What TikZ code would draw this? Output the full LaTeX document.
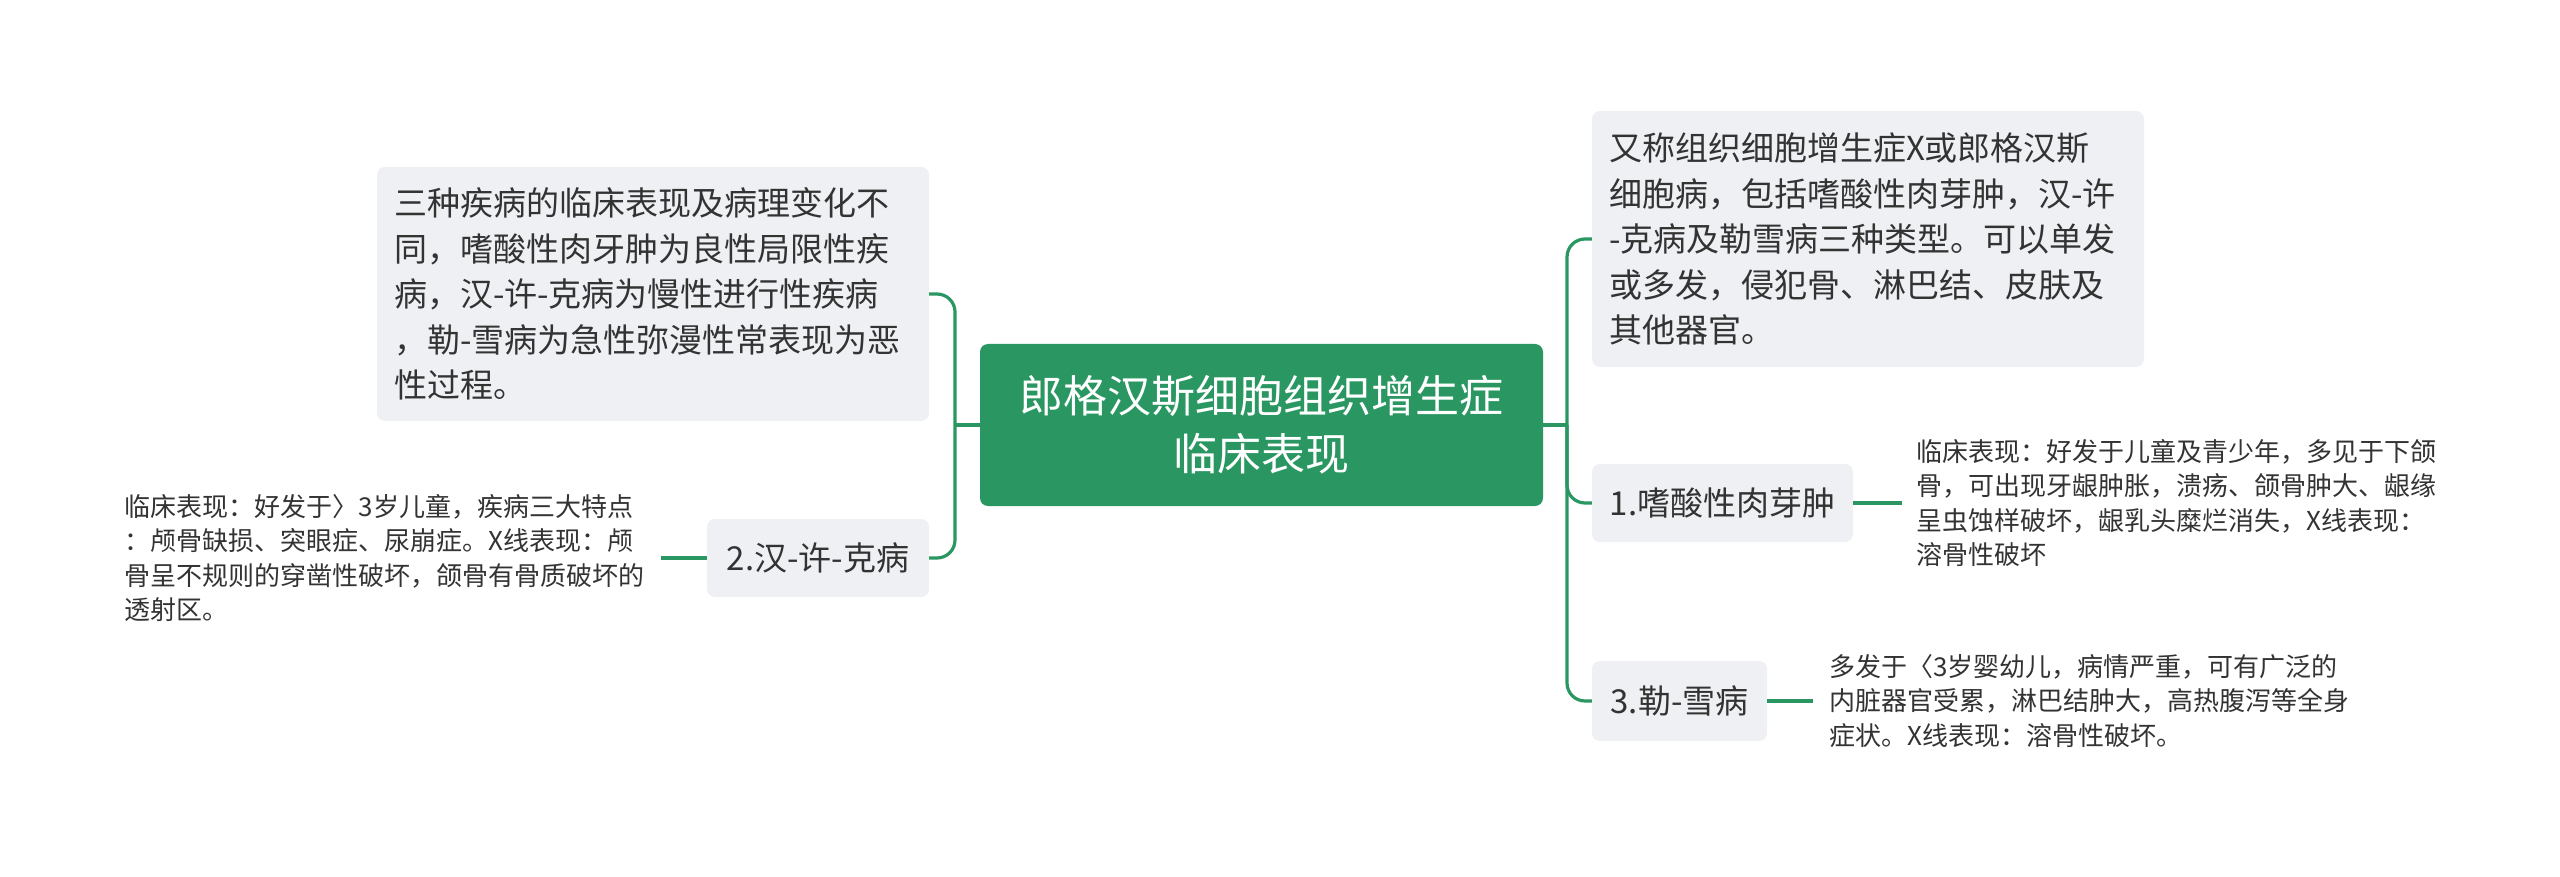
\documentclass[tikz,border=0pt]{standalone}
\usepackage{fontspec}
\setmainfont{Noto Sans CJK SC}
\definecolor{mgreen}{HTML}{2A9762}
\definecolor{lgreen}{HTML}{2A9762}
\definecolor{boxgray}{HTML}{EEF0F3}
\definecolor{txt}{HTML}{333333}
\tikzset{
  gbox/.style={fill=boxgray, rounded corners=8pt, text=txt, inner xsep=17pt, inner ysep=0pt, align=left},
  sbox/.style={fill=boxgray, rounded corners=8pt, text=txt, inner sep=0pt, align=center,
               font=\fontsize{33}{40}\selectfont},
  plain/.style={text=txt, inner xsep=14pt, inner ysep=0pt, align=left, text width=525pt,
               font=\fontsize{26}{34.5}\selectfont},
  conn/.style={draw=lgreen, line width=3.2pt, rounded corners=18pt},
}
\begin{document}
\begin{tikzpicture}[x=1pt,y=-1pt]
\fill[white] (0,0) rectangle (2560,877);
\useasboundingbox (0,0) rectangle (2560,877);

% central topic
\node[fill=mgreen, rounded corners=8pt, text=white, align=center, inner sep=0pt,
      minimum width=563pt, minimum height=162pt,
      font=\fontsize{44}{58}\selectfont] (c) at (1261.5,425)
  {郎格汉斯细胞组织增生症\\临床表现};

% left side
\node[gbox, text width=518pt, minimum height=254pt, font=\fontsize{33}{45.5}\selectfont] (tl) at (653,294)
  {三种疾病的临床表现及病理变化不\\同，嗜酸性肉牙肿为良性局限性疾\\病，汉-许-克病为慢性进行性疾病\\，勒-雪病为急性弥漫性常表现为恶\\性过程。};
\node[sbox, minimum width=222pt, minimum height=78pt] (b2) at (818,558) {2.汉-许-克病};
\node[plain, anchor=east, text width=522pt] (lt) at (661,558)
  {临床表现：好发于〉3岁儿童，疾病三大特点\\：颅骨缺损、突眼症、尿崩症。X线表现：颅\\骨呈不规则的穿凿性破坏，颌骨有骨质破坏的\\透射区。};

% right side
\node[gbox, text width=518pt, minimum height=256pt, font=\fontsize{33}{45.5}\selectfont] (tr) at (1868,239)
  {又称组织细胞增生症X或郎格汉斯\\细胞病，包括嗜酸性肉芽肿，汉-许\\-克病及勒雪病三种类型。可以单发\\或多发，侵犯骨、淋巴结、皮肤及\\其他器官。};
\node[sbox, minimum width=261pt, minimum height=78pt] (b1) at (1722.5,503) {1.嗜酸性肉芽肿};
\node[plain, anchor=west] (t1) at (1902,503)
  {临床表现：好发于儿童及青少年，多见于下颌\\骨，可出现牙龈肿胀，溃疡、颌骨肿大、龈缘\\呈虫蚀样破坏，龈乳头糜烂消失，X线表现：\\溶骨性破坏};
\node[sbox, minimum width=175pt, minimum height=80pt] (b3) at (1679.5,701) {3.勒-雪病};
\node[plain, anchor=west, inner xsep=16pt] (t3) at (1813,701)
  {多发于〈3岁婴幼儿，病情严重，可有广泛的\\内脏器官受累，淋巴结肿大，高热腹泻等全身\\症状。X线表现：溶骨性破坏。};

% connectors
\coordinate (sl) at (955,425);
\coordinate (sr) at (1567,425);
\draw[conn] (c.west) -- (sl);
\draw[conn] (sl) |- (tl.east);
\draw[conn] (sl) |- (b2.east);
\draw[conn] (lt.east) -- (b2.west);
\draw[conn] (c.east) -- (sr);
\draw[conn] (sr) |- (tr.west);
\draw[conn] (sr) |- (b1.west);
\draw[conn] (sr) |- (b3.west);
\draw[conn] (b1.east) -- (t1.west);
\draw[conn] (b3.east) -- (t3.west);
\end{tikzpicture}
\end{document}
